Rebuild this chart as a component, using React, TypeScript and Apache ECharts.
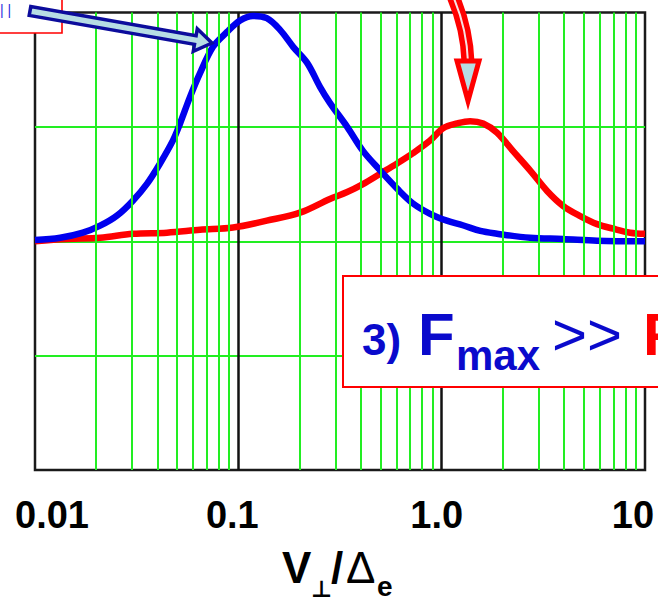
import React, { useEffect, useRef } from "react";
import * as echarts from "echarts";

// V_perp / Delta_e sample points (log axis) and the two distribution curves
const blueX = [0.01, 0.0133, 0.0172, 0.0209, 0.0253, 0.0303, 0.0356, 0.0412, 0.0477, 0.0517, 0.0578, 0.0648, 0.0751, 0.088, 0.102, 0.118, 0.138, 0.16, 0.186, 0.218, 0.252, 0.282, 0.343, 0.41, 0.498, 0.604, 0.723, 0.877, 1.06, 1.27, 1.55, 1.87, 2.72, 3.95, 5.81, 10];
const blueY = [0.01, 0.03, 0.075, 0.136, 0.224, 0.355, 0.504, 0.68, 0.882, 1.03, 1.26, 1.47, 1.7, 1.83, 1.93, 1.97, 1.95, 1.85, 1.7, 1.56, 1.35, 1.21, 1.0, 0.79, 0.62, 0.46, 0.33, 0.24, 0.18, 0.14, 0.09, 0.066, 0.03, 0.02, 0.005, 0];

const redX = [0.01, 0.0144, 0.0209, 0.0303, 0.0446, 0.0648, 0.0942, 0.138, 0.201, 0.282, 0.343, 0.41, 0.498, 0.604, 0.723, 0.877, 1.02, 1.19, 1.38, 1.6, 1.87, 2.24, 2.72, 3.3, 3.95, 4.8, 5.81, 6.97, 8.45, 10];
const redY = [0, 0.02, 0.03, 0.065, 0.075, 0.1, 0.12, 0.18, 0.25, 0.37, 0.43, 0.5, 0.59, 0.68, 0.77, 0.88, 0.99, 1.03, 1.05, 1.03, 0.95, 0.79, 0.62, 0.44, 0.31, 0.22, 0.15, 0.11, 0.075, 0.065];

// decade tick labels and the minor (2..9 per decade) grid positions
const tickLabels: Record<string, string> = { "-2": "0.01", "-1": "0.1", "0": "1.0", "1": "10" };
const minorGrid = [0.02, 0.03, 0.04, 0.05, 0.06, 0.07, 0.08, 0.09, 0.2, 0.3, 0.4, 0.5, 0.6, 0.7, 0.8, 0.9, 2, 3, 4, 5, 6, 7, 8, 9];

const FONT = '"Liberation Sans", Arial, sans-serif';
const GREEN = "#22ee22";
const BLUE_TXT = "#0a0acc";
const ARROW_FILL = "#b7dde4";

export default function App() {
  const ref = useRef<HTMLDivElement>(null);

  useEffect(() => {
    if (!ref.current) return;
    const chart = echarts.init(ref.current, null, { renderer: "svg" });

    const zip = (xs: number[], ys: number[]) => xs.map((x, i) => [x, ys[i]]);

    const labelRich = {
      a: { fontSize: 38, fontWeight: "bold", fontFamily: FONT, color: "#000", padding: [0, 0, 0, 34] },
      b: { fontSize: 38, fontWeight: "bold", fontFamily: FONT, color: "#000", padding: [0, 12, 0, 0] },
      c: { fontSize: 38, fontWeight: "bold", fontFamily: FONT, color: "#000", padding: [0, 10, 0, 0] },
      d: { fontSize: 38, fontWeight: "bold", fontFamily: FONT, color: "#000", padding: [0, 24, 0, 0] },
    };
    const richKey: Record<string, string> = { "-2": "a", "-1": "b", "0": "c", "1": "d" };

    chart.setOption({
      animation: false,
      backgroundColor: "#fff",
      grid: {
        left: 35,
        right: 13,
        top: 12.5,
        bottom: 128,
        show: true,
        borderColor: "#1a1a1a",
        borderWidth: 2.5,
        backgroundColor: "transparent",
      },
      xAxis: {
        type: "log",
        logBase: 10,
        min: 0.01,
        max: 10,
        axisLine: { show: false },
        axisTick: { show: false },
        splitLine: {
          show: true,
          showMinLine: false,
          showMaxLine: false,
          lineStyle: { color: "#111", width: 2.5 },
        },
        axisLabel: {
          margin: 26,
          showMinLabel: true,
          showMaxLabel: true,
          formatter: (v: number) => {
            const k = String(Math.round(Math.log10(v)));
            return `{${richKey[k]}|${tickLabels[k]}}`;
          },
          rich: labelRich,
        },
      },
      yAxis: {
        type: "value",
        min: -2,
        max: 2,
        interval: 1,
        axisLine: { show: false },
        axisTick: { show: false },
        axisLabel: { show: false },
        splitLine: {
          show: true,
          showMinLine: false,
          showMaxLine: false,
          lineStyle: { color: GREEN, width: 2 },
        },
      },
      series: [
        {
          name: "minor-grid",
          type: "line",
          data: [],
          z: 1,
          silent: true,
          markLine: {
            silent: true,
            symbol: ["none", "none"],
            label: { show: false },
            lineStyle: { color: GREEN, width: 2, type: "solid" },
            data: minorGrid.map((v) => ({ xAxis: v })),
          },
        },
        {
          name: "red",
          type: "line",
          data: zip(redX, redY),
          showSymbol: false,
          smooth: 0.35,
          z: 3,
          lineStyle: { color: "#ff0000", width: 6.5 },
        },
        {
          name: "blue",
          type: "line",
          data: zip(blueX, blueY),
          showSymbol: false,
          smooth: 0.35,
          z: 4,
          lineStyle: { color: "#0000ee", width: 6.5 },
        },
      ],
      graphic: [
        // small callout box, top left
        {
          type: "rect",
          z: 100,
          shape: { x: -3, y: -3, width: 65, height: 36 },
          style: { fill: "#fff", stroke: "#ff0000", lineWidth: 1.6 },
        },
        {
          type: "text",
          z: 101,
          x: 0,
          y: 10,
          style: { text: "| |", fontSize: 14, fontFamily: FONT, fill: "#3030e0", verticalAlign: "middle" },
        },
        // straight blue arrow
        {
          type: "polygon",
          z: 100,
          shape: {
            points: [
              [29.2, 15.4],
              [30.8, 6.6],
              [196.1, 35.6],
              [197.3, 28.7],
              [212, 43],
              [193.3, 51.3],
              [194.5, 44.4],
            ],
          },
          style: { fill: ARROW_FILL, stroke: "#0c0c9c", lineWidth: 3.5, lineJoin: "miter" },
        },
        // curved red arrow
        {
          type: "bezierCurve",
          z: 100,
          shape: { x1: 452, y1: -6, cpx1: 461, cpy1: 14, cpx2: 467, cpy2: 34, x2: 468, y2: 62 },
          style: { fill: "none", stroke: "#ff0000", lineWidth: 13 },
        },
        {
          type: "bezierCurve",
          z: 101,
          shape: { x1: 452, y1: -6, cpx1: 461, cpy1: 14, cpx2: 467, cpy2: 34, x2: 468, y2: 62 },
          style: { fill: "none", stroke: "#f6e2e2", lineWidth: 2 },
        },
        {
          type: "polygon",
          z: 102,
          shape: { points: [[457, 61], [479, 61], [468, 101]] },
          style: { fill: ARROW_FILL, stroke: "#ff0000", lineWidth: 5, lineJoin: "miter" },
        },
        // statement box
        {
          type: "rect",
          z: 100,
          shape: { x: 343, y: 276, width: 340, height: 111 },
          style: { fill: "#fff", stroke: "#ff0000", lineWidth: 2 },
        },
        {
          type: "text",
          z: 101,
          x: 362,
          y: 339.6,
          style: { text: "3)", fontSize: 44, fontWeight: "bold", fontFamily: FONT, fill: BLUE_TXT, verticalAlign: "middle" },
        },
        {
          type: "text",
          z: 101,
          x: 418,
          y: 334,
          style: { text: "F", fontSize: 60, fontWeight: "bold", fontFamily: FONT, fill: BLUE_TXT, verticalAlign: "middle" },
        },
        {
          type: "text",
          z: 101,
          x: 456,
          y: 355,
          style: { text: "max", fontSize: 42, fontWeight: "bold", fontFamily: FONT, fill: BLUE_TXT, verticalAlign: "middle" },
        },
        {
          type: "text",
          z: 101,
          x: 552,
          y: 334,
          style: { text: ">>", fontSize: 60, fontFamily: FONT, fill: BLUE_TXT, verticalAlign: "middle" },
        },
        {
          type: "text",
          z: 101,
          x: 643,
          y: 334,
          style: { text: "F", fontSize: 60, fontWeight: "bold", fontFamily: FONT, fill: "#ff0000", verticalAlign: "middle" },
        },
        // x axis title: V⊥/Δe
        {
          type: "text",
          z: 101,
          x: 282,
          y: 567.6,
          style: { text: "V", fontSize: 44, fontWeight: "bold", fontFamily: FONT, fill: "#000", verticalAlign: "middle" },
        },
        {
          type: "text",
          z: 101,
          x: 311,
          y: 589,
          style: {
            text: "⊥",
            fontSize: 23,
            fontWeight: "bold",
            lineHeight: 16,
            fontFamily: '"DejaVu Sans", sans-serif',
            fill: "#000",
            verticalAlign: "middle",
          },
        },
        {
          type: "text",
          z: 101,
          x: 331,
          y: 567.6,
          style: { text: "/", fontSize: 44, fontWeight: "bold", fontFamily: FONT, fill: "#000", verticalAlign: "middle" },
        },
        {
          type: "text",
          z: 101,
          x: 346,
          y: 567.6,
          style: { text: "Δ", fontSize: 44, fontFamily: FONT, fill: "#000", verticalAlign: "middle" },
        },
        {
          type: "text",
          z: 101,
          x: 377,
          y: 586,
          style: {
            text: "e",
            fontSize: 28,
            fontWeight: "bold",
            lineHeight: 18,
            fontFamily: FONT,
            fill: "#000",
            verticalAlign: "middle",
          },
        },
      ],
    });

    return () => chart.dispose();
  }, []);

  return (
    <div
      ref={ref}
      style={{ position: "fixed", left: 0, top: 0, width: 658, height: 598, background: "#fff" }}
    />
  );
}
